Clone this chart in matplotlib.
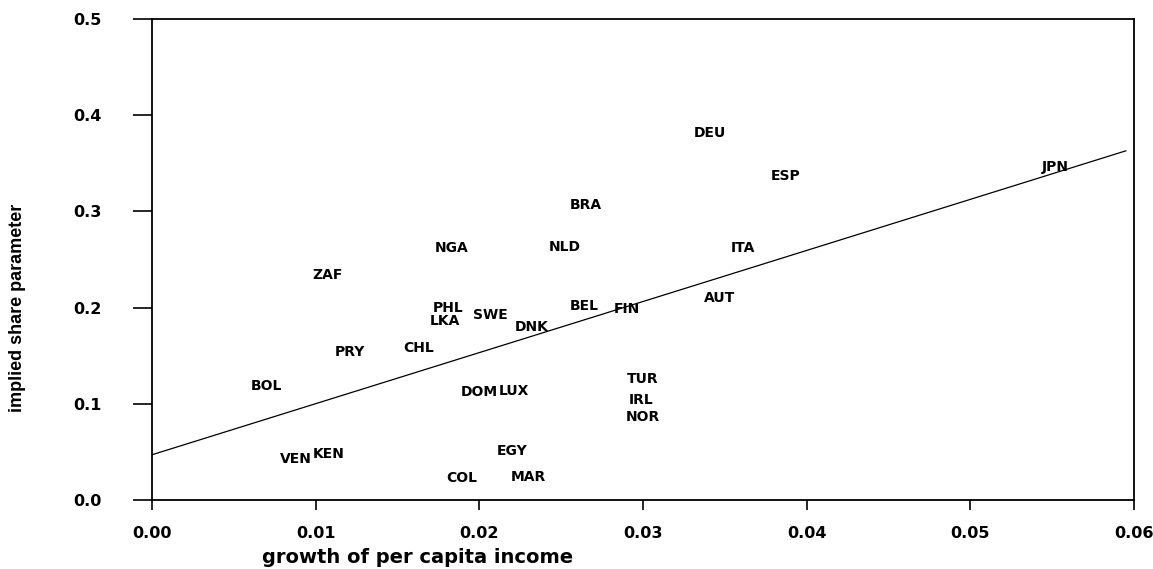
import numpy as np
import matplotlib.pyplot as plt

# country codes and their (growth, implied share) positions
countries = ['DEU', 'ESP', 'JPN', 'BRA', 'NGA', 'NLD', 'ITA', 'ZAF', 'AUT', 'PHL',
             'BEL', 'FIN', 'SWE', 'LKA', 'DNK', 'CHL', 'PRY', 'BOL', 'DOM', 'LUX',
             'TUR', 'IRL', 'NOR', 'VEN', 'KEN', 'EGY', 'COL', 'MAR']
growth = [0.0341, 0.0387, 0.0552, 0.0265, 0.0183, 0.0252, 0.0361, 0.0107, 0.0347, 0.0181,
          0.0264, 0.0290, 0.0207, 0.0179, 0.0232, 0.0163, 0.0121, 0.0070, 0.0200, 0.0221,
          0.0300, 0.0299, 0.0300, 0.0088, 0.0108, 0.0220, 0.0189, 0.0230]
share = [0.382, 0.337, 0.346, 0.307, 0.262, 0.263, 0.262, 0.234, 0.210, 0.200,
         0.202, 0.199, 0.192, 0.186, 0.180, 0.158, 0.154, 0.119, 0.112, 0.113,
         0.126, 0.104, 0.086, 0.043, 0.048, 0.051, 0.023, 0.024]

# fitted line
fit_x = [0.0, 0.0595]
fit_intercept = 0.047
fit_slope = 5.31

fig = plt.figure(figsize=(11.53, 5.69), dpi=100)
ax = fig.add_axes([0.1318, 0.1213, 0.8517, 0.8453])

for c, gx, sy in zip(countries, growth, share):
    ax.text(gx, sy, c, ha='center', va='center', fontsize=10,
            fontweight='heavy', family='DejaVu Sans')

fx = np.array(fit_x)
ax.plot(fx, fit_intercept + fit_slope * fx, color='black', lw=0.9)

ax.set_xlim(0, 0.06)
ax.set_ylim(0, 0.5)
ax.set_xticks([0.0, 0.01, 0.02, 0.03, 0.04, 0.05, 0.06])
ax.set_xticklabels(['0.00', '0.01', '0.02', '0.03', '0.04', '0.05', '0.06'])
ax.set_yticks([0.0, 0.1, 0.2, 0.3, 0.4, 0.5])
ax.set_yticklabels(['0.0', '0.1', '0.2', '0.3', '0.4', '0.5'])

for s in ax.spines.values():
    s.set_linewidth(1.3)
ax.tick_params(axis='y', direction='out', length=14, width=1.2, pad=22)
ax.tick_params(axis='x', direction='out', length=7, width=1.2, pad=12)
for lab in ax.get_xticklabels() + ax.get_yticklabels():
    lab.set_fontweight('heavy')
    lab.set_fontsize(11.5)
    lab.set_family('DejaVu Sans')

ax.set_xlabel('growth of per capita income', fontsize=14, fontweight='bold',
              family='DejaVu Sans')
ax.xaxis.set_label_coords(0.27, -0.10)
ax.set_ylabel('implied share parameter', fontsize=13, fontweight='bold',
              family='Liberation Sans')
ax.yaxis.set_label_coords(-0.128, 0.40)

fig.savefig('out.png', dpi=100)
